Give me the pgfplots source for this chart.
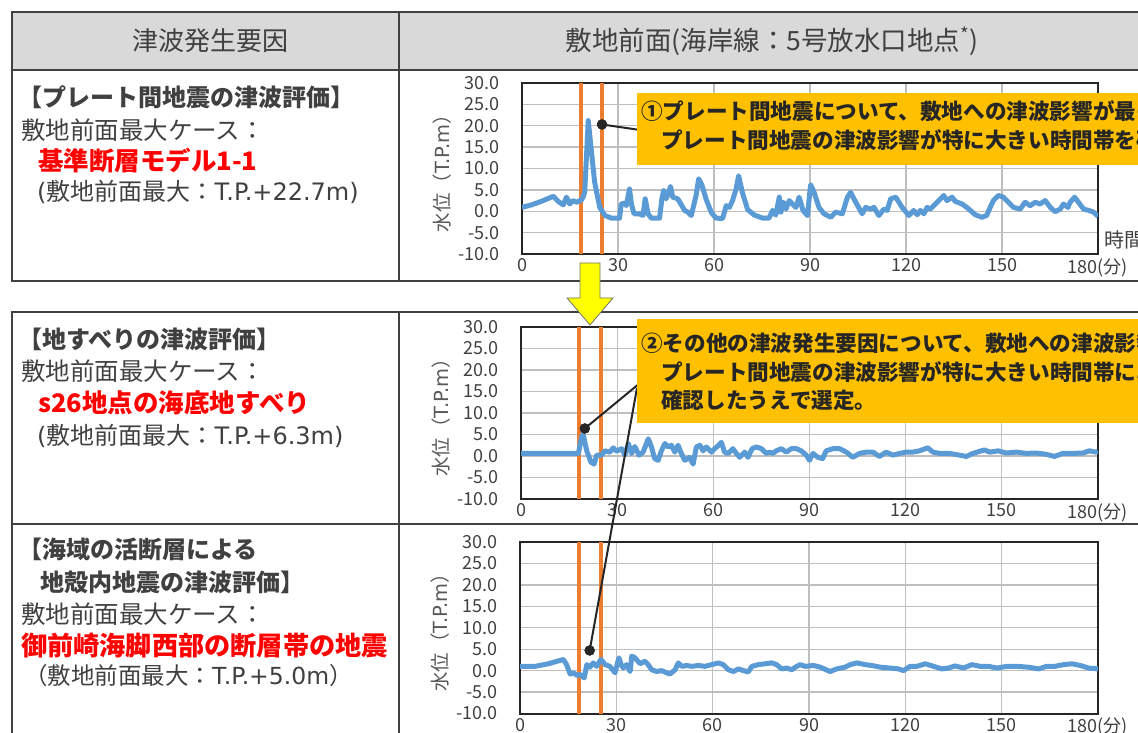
\documentclass[border=0pt]{standalone}
\usepackage{fontspec}
\setmainfont{Noto Sans CJK JP}
\newfontfamily\lat{DejaVu Sans}
\usepackage{pgfplots}
\pgfplotsset{compat=1.18}
\definecolor{tblline}{HTML}{404040}
\definecolor{hdrfill}{HTML}{D9D9D9}
\definecolor{txt}{HTML}{404040}
\definecolor{labgray}{HTML}{595959}
\definecolor{lineblue}{HTML}{5B9BD5}
\definecolor{orangeL}{HTML}{ED7D31}
\definecolor{gridc}{HTML}{BFBFBF}
\definecolor{boxfill}{HTML}{FFC000}
\definecolor{dark}{HTML}{262626}
\definecolor{arrowy}{HTML}{FFFF00}
\definecolor{redt}{HTML}{FF0000}
\newcommand\fs[1]{\fontsize{#1}{#1}\selectfont}

\pgfplotstableread{
t v
0 0.9
3 1.5
6 2.3
9.8 3.5
11.3 2.3
12.9 1.5
13.9 3.3
14.9 1.7
16.0 2.5
17.0 2.1
18.5 2.6
19.1 3.3
19.6 4.5
20.7 21.2
21.5 15.4
22.7 6.8
24.3 0.9
25.9 -1.0
27.9 -1.6
30.5 -1.6
31.0 1.7
32.1 1.9
32.6 1.3
33.6 5.2
34.2 1.7
35.0 -0.6
36.8 -0.6
37.8 -1.0
38.5 2.9
39.4 -0.6
40.4 -1.6
43.0 -1.6
43.7 2.9
44.3 4.9
45.0 2.9
45.8 4.3
46.4 5.8
47.1 3.3
48.7 2.9
50.8 0.2
51.8 -0.2
52.9 -1.0
54.4 3.7
55.2 7.6
56.2 6.2
57.5 2.9
59.1 -0.2
60.6 -1.6
62.7 -1.7
63.8 1.3
64.8 0.9
65.8 2.5
66.9 5.2
67.7 8.3
68.9 4.3
70.5 0.4
72.6 -0.9
75.2 -1.6
77.2 -1.6
78.3 0.2
79.3 -0.9
80.4 3.3
80.9 -0.2
81.7 2.1
82.5 0.5
83.5 2.5
84.5 1.7
85.6 0.9
86.6 3.3
87.8 0.2
89.2 -1.0
90.2 6.2
91.3 4.4
92.8 0.9
94.4 -0.6
96.5 -1.4
98.0 -0.2
100.1 -0.6
101.7 3.3
102.7 4.4
104.3 2.1
106.3 -0.6
107.4 0.9
108.9 0.5
110.0 0.9
111.5 -1.0
113.1 0.5
114.1 0.2
115.2 2.9
116.8 3.3
118.8 0.9
120.9 -1.0
122.4 0.2
123.5 -0.8
124.5 0.2
125.6 -0.6
126.6 0.9
127.6 0.5
129.2 1.7
130.8 2.9
131.8 3.7
132.8 2.5
134.4 3.3
135.4 2.3
137.5 1.7
139.0 0.9
140.1 0.2
141.6 -0.8
143.7 -1.4
145.2 -1.0
146.3 0.9
147.3 2.5
148.9 3.7
150.4 3.3
152.0 2.1
153.6 0.9
155.7 0.5
157.2 2.1
158.8 1.3
160.4 2.1
161.9 1.7
163.5 2.5
165.1 0.9
166.6 -0.1
168.2 0.5
169.2 1.7
170.6 0.9
171.3 2.1
172.7 3.3
173.9 2.1
175.5 0.5
177.1 0.2
178.6 -0.2
180 -1.2
}\plateA

\pgfplotstableread{
t v
0 0.6
17.9 0.6
18.9 4.4
19.4 5.0
20.5 1.2
21.8 -1.4
22.8 -1.9
23.6 0.2
25.1 0.2
26.2 1.2
27.7 0.9
28.8 1.9
29.8 1.1
31.4 1.7
32.4 0.2
33.5 2.9
34.5 0.6
35.5 2.2
36.8 0.2
38.1 0.9
39.7 4.0
40.7 2.1
41.7 -0.6
42.8 -1.0
43.8 1.2
44.9 2.9
45.9 2.1
46.9 2.5
48.0 0.9
49.0 2.5
50.0 0.6
51.1 -1.0
52.6 -0.3
53.7 -1.9
54.7 2.1
55.8 2.5
56.8 1.2
57.8 2.1
59.4 0.9
60.4 1.7
61.7 2.5
62.5 3.2
63.5 0.9
64.6 0.6
66.1 1.7
67.2 0.6
68.2 -0.3
69.8 0.9
70.8 -0.3
72.1 1.7
73.4 2.1
75.0 1.7
76.5 0.6
77.6 0.9
78.6 0.6
79.6 1.2
81.2 1.7
82.8 0.9
84.3 1.7
85.9 1.7
87.4 1.2
89.0 0.2
90.0 -1.0
91.1 0.6
92.6 -0.3
94.1 -0.6
95.2 1.2
97.3 1.7
99.4 1.7
101.5 0.9
103.5 -0.3
105.6 0.6
107.7 0.9
109.8 0.9
111.8 -0.1
113.9 0.9
116.0 0.2
118.1 0.6
120.2 0.9
122.2 0.9
124.3 1.2
126.9 1.9
128.5 0.9
130.6 0.6
133.7 0.6
136.8 0.2
138.9 -0.1
141.0 0.6
143.1 1.1
144.6 1.4
146.2 0.9
148.8 1.2
151.4 0.7
154.5 0.9
157.6 0.6
160.7 0.7
163.8 0.4
166.4 -0.1
169.0 0.6
172.1 0.6
175.3 0.7
177.3 1.2
179.4 0.9
180 1.1
}\slideB

\pgfplotstableread{
t v
0 1.0
4.7 1.0
8.8 1.6
13.5 2.6
14.5 1.4
15.6 -0.8
16.6 -0.5
17.7 -1.1
18.7 -0.9
20.0 -1.7
20.8 1.4
21.8 0.8
22.8 1.8
23.9 1.0
25.2 2.6
26.5 1.4
28.0 1.0
29.6 -0.5
30.8 3.0
31.5 1.4
32.2 0.6
33.2 1.4
34.3 -0.2
34.8 3.4
35.8 3.0
37.4 1.6
38.9 2.2
39.9 1.4
41.0 0.2
42.6 -0.2
44.1 0.0
45.7 -0.5
46.7 -0.8
48.3 0.2
49.3 1.8
50.4 1.0
51.9 1.2
53.5 1.0
55.6 1.2
57.6 1.0
59.7 1.4
61.8 1.8
63.3 1.4
64.9 0.2
66.5 -0.2
68.0 0.4
69.6 0.0
71.1 -0.3
72.2 1.0
74.2 1.4
76.3 1.6
78.4 1.8
79.9 1.4
81.5 0.4
83.1 0.6
84.6 0.2
86.2 1.0
87.2 1.4
88.8 1.0
91.4 1.2
93.5 0.8
96.6 -0.2
98.6 0.4
101.2 0.8
102.8 1.4
104.9 1.8
107.5 1.4
109.6 1.2
112.2 0.8
115.3 0.6
117.9 0.4
119.4 0.0
121.5 1.0
123.6 1.0
126.2 1.6
128.8 1.0
131.4 0.4
133.4 0.6
135.5 1.1
138.1 0.6
140.7 1.4
143.3 1.0
145.9 1.0
148.5 0.6
151.6 1.0
154.7 1.0
158.4 0.8
161.5 0.4
164.0 1.0
166.6 1.0
169.3 1.4
171.9 1.6
174.5 1.2
177.1 0.6
180 0.4
}\faultC

\pgfplotsset{tsu/.style={
  scale only axis, anchor=south west,
  xmin=0, xmax=180, ymin=-10, ymax=30,
  xtick={0,30,...,180}, ytick={-10,-5,...,30},
  xticklabels={0,30,60,90,120,150,180(分)},
  yticklabels={-10.0,-5.0,0.0,5.0,10.0,15.0,20.0,25.0,30.0},
  major tick length=0pt,
  grid=major, major grid style={gridc, line width=1.3pt},
  axis line style={dark, line width=2pt},
  tick label style={font=\fs{18}, text=txt},
  yticklabel style={xshift=-19pt},
  xticklabel style={yshift=-1pt},
  ylabel={水位（{\lat T.P.m}）},
  every axis y label/.style={at={(axis description cs:-0.138,0.5)}, rotate=90, anchor=center, font=\fs{19.5}, text=labgray},
}}
\tikzset{ts/.style={lineblue, line width=5pt, line join=round},
  orl/.style={orangeL, line width=4pt},
  dotm/.style={only marks, mark=*, mark size=5pt, dark}}

\begin{document}
\begin{tikzpicture}
\path[use as bounding box] (0,0) rectangle (1138pt,732pt);
\clip (0,0) rectangle (1138pt,732pt);
% table
\fill[hdrfill] (12pt,720pt) rectangle (1150pt,662pt);
\begin{scope}[tblline, line width=2.5pt]
\draw (1150pt,720pt) -- (12pt,720pt) -- (12pt,451pt) -- (1150pt,451pt);
\draw (12pt,662pt) -- (1150pt,662pt);
\draw (399pt,720pt) -- (399pt,451pt);
\draw (1150pt,420pt) -- (12pt,420pt) -- (12pt,-10pt);
\draw (12pt,208pt) -- (1150pt,208pt);
\draw (399pt,420pt) -- (399pt,-10pt);
\end{scope}
% header
\node[anchor=base, inner sep=0, text=txt, font=\fs{26}] at (210pt,681pt) {津波発生要因};
\node[anchor=base, inner sep=0, text=txt, font=\fs{26.5}] at (772pt,681pt) {敷地前面(海岸線：5号放水口地点\textsuperscript{*})};
% left texts
\begin{scope}[every node/.style={anchor=base west, inner sep=0, text=txt}]
\node[font=\fs{24}\bfseries] at (18pt,625pt) {【プレート間地震の津波評価】};
\node[font=\fs{24.5}] at (21pt,592.8pt) {敷地前面最大ケース：};
\node[font=\fs{25.5}\bfseries, text=redt] at (38pt,561pt) {基準断層モデル1-1};
\node[font=\fs{24}] at (37pt,531.3pt) {{\lat(}敷地前面最大：{\lat T.P.+22.7m)}};
\node[font=\fs{24}\bfseries] at (18pt,383.7pt) {【地すべりの津波評価】};
\node[font=\fs{24.5}] at (21pt,351.8pt) {敷地前面最大ケース：};
\node[font=\fs{25.5}\bfseries, text=redt] at (38pt,319.8pt) {s26地点の海底地すべり};
\node[font=\fs{24}] at (37pt,287.4pt) {{\lat(}敷地前面最大：{\lat T.P.+6.3m)}};
\node[font=\fs{24}\bfseries] at (18pt,173.7pt) {【海域の活断層による};
\node[font=\fs{24}\bfseries] at (40pt,140.7pt) {地殻内地震の津波評価】};
\node[font=\fs{24.5}] at (21pt,108.5pt) {敷地前面最大ケース：};
\node[font=\fs{26.2}\bfseries, text=redt] at (21pt,76.1pt) {御前崎海脚西部の断層帯の地震};
\node[font=\fs{23.5}] at (24pt,47.4pt) {（敷地前面最大：{\lat T.P.+5.0m}）};
\end{scope}
% plot 1
\begin{axis}[tsu, at={(522pt,478pt)}, width=576pt, height=171pt]
\addplot[orl] coordinates {(18.3,-10) (18.3,30)};
\addplot[orl] coordinates {(25.0,-10) (25.0,30)};
\addplot[ts] table[x=t,y=v] {\plateA};
\addplot[dotm] coordinates {(25.0,20.3)};
\coordinate (d1) at (axis cs:25.0,20.3);
\end{axis}
\node[anchor=west, inner sep=0, font=\fs{20}, text=txt] at (1104pt,491pt) {時間(分)};
% plot 2
\begin{axis}[tsu, at={(521pt,233pt)}, width=577pt, height=172pt]
\addplot[orl] coordinates {(18.0,-10) (18.0,30)};
\addplot[orl] coordinates {(24.8,-10) (24.8,30)};
\addplot[ts] table[x=t,y=v] {\slideB};
\addplot[dotm] coordinates {(19.9,6.4)};
\coordinate (d2) at (axis cs:19.9,6.4);
\end{axis}
% plot 3
\begin{axis}[tsu, at={(520pt,18.5pt)}, width=578pt, height=171.5pt]
\addplot[orl] coordinates {(18.3,-10) (18.3,30)};
\addplot[orl] coordinates {(25.1,-10) (25.1,30)};
\addplot[ts] table[x=t,y=v] {\faultC};
\addplot[dotm] coordinates {(21.7,4.7)};
\coordinate (d3) at (axis cs:21.7,4.7);
\end{axis}
% connectors
\draw[dark, line width=2pt] (d1) -- (640pt,602pt);
\draw[dark, line width=2pt] (d2) -- (640pt,349pt);
\draw[dark, line width=2pt] (d3) -- (637pt,344pt);
\fill[dark] (d1) circle (5pt);
\fill[dark] (d2) circle (5pt);
\fill[dark] (d3) circle (5pt);
% callout boxes
\fill[boxfill] (637pt,639pt) rectangle (1150pt,567pt);
\fill[boxfill] (637pt,413pt) rectangle (1150pt,309pt);
\begin{scope}[every node/.style={anchor=base west, inner sep=0, text=dark, font=\fs{21.6}\bfseries}]
\node at (641pt,612.6pt) {①プレート間地震について、敷地への津波影響が最も大きいケースを選定。};
\node at (661pt,583.6pt) {プレート間地震の津波影響が特に大きい時間帯を確認。};
\node at (641pt,380.6pt) {②その他の津波発生要因について、敷地への津波影響が最も大きいケースを、};
\node at (661pt,351.6pt) {プレート間地震の津波影響が特に大きい時間帯における影響も};
\node at (661pt,323.6pt) {確認したうえで選定。};
\end{scope}
% arrow
\filldraw[fill=arrowy, draw=black!55, line width=0.8pt]
  (580pt,469pt) -- (580pt,434pt) -- (567pt,434pt) -- (590pt,407pt) -- (613pt,434pt) -- (600pt,434pt) -- (600pt,469pt) -- cycle;
\end{tikzpicture}
\end{document}
